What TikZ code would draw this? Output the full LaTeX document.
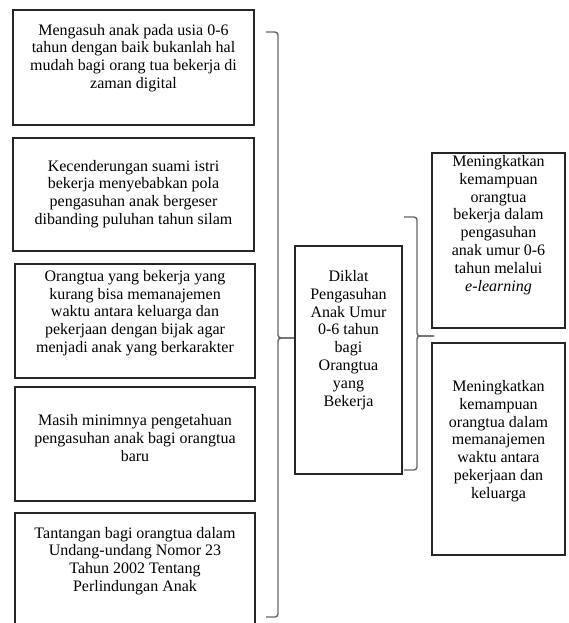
\documentclass[tikz,border=0pt]{standalone}
\usepackage{fontspec}
\setmainfont{Liberation Serif}
\newfontfamily\boxfont{Liberation Serif}

\begin{document}
\begin{tikzpicture}[x=1pt, y=-1pt,
  box/.style={draw=black!85, line width=1.1pt, inner sep=0pt},
  txt/.style={align=center, inner sep=0pt, font=\boxfont\fontsize{16}{17.8}\selectfont},
  brace/.style={draw=black!60, line width=1.4pt, rounded corners=3pt}]
  \useasboundingbox (0,0) rectangle (568,623);
  \node[box, minimum width=241, minimum height=115] (p1) at (133.5,67.5) {};
  \node[box, minimum width=241, minimum height=113] (p2) at (133.5,194.5) {};
  \node[box, minimum width=240, minimum height=114] (p3) at (135,321) {};
  \node[box, minimum width=240, minimum height=114] (p4) at (135,444) {};
  \node[box, minimum width=240, minimum height=127] (p5) at (135,576.5) {};
  \node[box, minimum width=107, minimum height=228] (c) at (348.5,360) {};
  \node[box, minimum width=133, minimum height=175] (h1) at (498.5,240.5) {};
  \node[box, minimum width=133, minimum height=212] (h2) at (498.5,449) {};
  \node[txt] (t1) at (133.5,58) {Mengasuh anak pada usia 0-6\\tahun dengan baik bukanlah hal\\mudah bagi orang tua bekerja di\\zaman digital};
  \node[txt] (t2) at (133.5,194) {Kecenderungan suami istri\\bekerja menyebabkan pola\\pengasuhan anak bergeser\\dibanding puluhan tahun silam};
  \node[txt] (t3) at (135,313) {Orangtua yang bekerja yang\\kurang bisa memanajemen\\waktu antara keluarga dan\\pekerjaan dengan bijak agar\\menjadi anak yang berkarakter};
  \node[txt] (t4) at (135,438) {Masih minimnya pengetahuan\\pengasuhan anak bagi orangtua\\baru};
  \node[txt] (t5) at (135,561) {Tantangan bagi orangtua dalam\\Undang-undang Nomor 23\\Tahun 2002 Tentang\\Perlindungan Anak};
  \node[txt] (tc) at (348.5,340) {Diklat\\Pengasuhan\\Anak Umur\\0-6 tahun\\bagi\\Orangtua\\yang\\Bekerja};
  \node[txt] (th1) at (498.5,225) {Meningkatkan\\kemampuan\\orangtua\\bekerja dalam\\pengasuhan\\anak umur 0-6\\tahun melalui\\\textit{e-learning}};
  \node[txt] (th2) at (498.5,441) {Meningkatkan\\kemampuan\\orangtua dalam\\memanajemen\\waktu antara\\pekerjaan dan\\keluarga};
  \coordinate (la) at (266,32);
  \coordinate (lb) at (266,617);
  \coordinate (lm) at (294,338);
  \coordinate (ra) at (404,217);
  \coordinate (rb) at (404,470);
  \coordinate (rm) at (434,336);
  \draw[brace] (la) -- ++(12,0) |- (lm);
  \draw[brace] (lb) -- ++(12,0) |- (lm);
  \draw[brace] (ra) -- ++(13,0) |- (rm);
  \draw[brace] (rb) -- ++(13,0) |- (rm);
\end{tikzpicture}
\end{document}
